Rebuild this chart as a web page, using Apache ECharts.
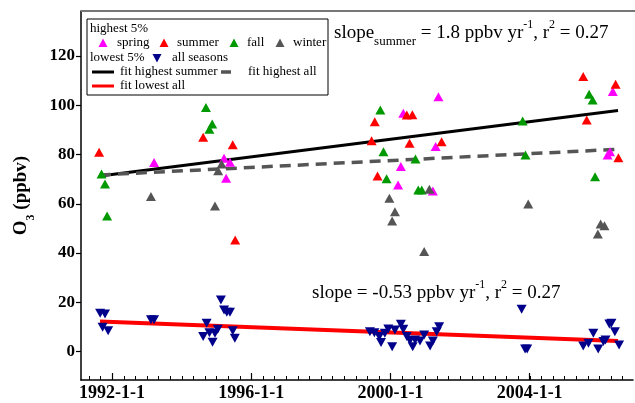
<!DOCTYPE html>
<html><head><meta charset="utf-8">
<script src="https://cdn.jsdelivr.net/npm/echarts@6/dist/echarts.min.js"></script>
<style>html,body{margin:0;padding:0;background:#fff}#c{width:635px;height:403px}</style>
</head><body><div id="c"></div>
<script>
// ---- data (decimal year, ppbv) ----
var spring = [[1993.21,76.7],[1995.22,78.5],[1995.39,76.8],[1995.28,70.3],[2001.38,103.4],[2000.37,96.7],[2001.30,83.2],[2000.30,75.1],[2000.22,67.6],[2001.22,65.2],[2006.39,105.5],[2006.24,79.8],[2006.31,81.1]];
var summer = [[1991.63,80.9],[1994.62,87.0],[1995.47,83.9],[1995.54,45.3],[1999.55,93.3],[1999.46,85.6],[2000.47,96.0],[2000.63,96.1],[2000.55,84.5],[2001.47,85.2],[1999.63,71.3],[2005.54,111.6],[2006.47,108.5],[2005.64,94.0],[2006.55,78.7]];
var fall = [[1991.70,72.1],[1991.80,68.0],[1991.86,55.0],[1994.70,99.1],[1994.88,92.4],[1994.80,90.2],[1999.71,98.0],[1999.80,81.1],[2000.72,78.2],[1999.89,70.1],[2000.80,65.6],[2000.90,65.6],[2003.80,93.6],[2003.88,79.8],[2005.71,104.4],[2005.81,102.1],[2005.88,71.0]];
var winter = [[1993.12,62.9],[1995.05,73.4],[1995.15,76.1],[1994.96,59.1],[2001.12,65.9],[1999.97,62.2],[2000.13,56.8],[2000.05,53.0],[2000.97,40.6],[2003.96,59.9],[2006.04,51.8],[2006.15,51.1],[2005.96,47.7]];
var lowestAll = [[1991.66,15.6],[1991.80,15.3],[1991.73,9.9],[1991.89,8.5],[1993.12,12.9],[1993.21,12.9],[1994.72,11.5],[1994.62,6.1],[1994.80,7.7],[1994.89,3.8],[1994.96,7.5],[1995.04,9.1],[1995.13,21.0],[1995.22,16.9],[1995.30,16.0],[1995.39,16.0],[1995.47,8.5],[1995.53,5.4],
  [1999.41,8.1],[1999.54,7.7],[1999.68,6.1],[1999.73,3.7],[1999.84,7.5],[1999.94,9.2],[2000.05,2.0],[2000.13,8.8],[2000.30,11.1],[2000.37,9.1],[2000.47,6.1],[2000.56,4.5],[2000.64,2.0],[2000.71,4.7],[2000.85,4.3],[2000.97,6.8],[2001.14,2.3],[2001.22,4.3],[2001.33,8.1],[2001.40,10.1],
  [2003.77,17.2],[2003.87,1.1],[2003.93,1.1],[2005.54,2.3],[2005.69,3.4],[2005.83,7.5],[2005.97,1.1],[2006.12,4.1],[2006.18,4.7],[2006.29,11.2],[2006.35,11.5],[2006.45,8.1],[2006.57,2.7]];
var fitHighestSummer = [[1991.655,71.3],[2006.54,97.8]];
var fitHighestAll = [[1991.655,71.7],[2006.54,82.1]];
var fitLowestAll = [[1991.655,12.2],[2006.54,4.3]];
var xTickYears = [1992,1996,2000,2004];
var yTicks = [0,20,40,60,80,100,120];

var minor = [];
for (var t = 1991.34; t < 2007; t += 1/3) minor.push(+t.toFixed(3));

var serif = 'Liberation Serif';
var chart = echarts.init(document.getElementById('c'), null, {renderer:'canvas'});
function tri(cx, cy, color, down) {
  var pts = down ? [[cx-4.5,cy-4],[cx+4.5,cy-4],[cx,cy+4.5]] : [[cx-4.5,cy+4],[cx+4.5,cy+4],[cx,cy-4.5]];
  return {type:'polygon', shape:{points:pts}, style:{fill:color}, z:101};
}
function txt(x, y, s) {
  return {type:'text', x:x, y:y, style:{text:s, font:'13px "Liberation Serif"', fill:'#000', verticalAlign:'middle'}, z:101};
}
function ln(x1,x2,y,color,w) {
  return {type:'line', shape:{x1:x1,y1:y,x2:x2,y2:y}, style:{stroke:color, lineWidth:w}, z:101};
}
var C = {spring:'#ff00ff', summer:'#ff0000', fall:'#009900', winter:'#555555', low:'#00008b'};
var mk = function(name, data, color, down) {
  return {name:name, type:'scatter', data:data, symbol:'triangle', symbolSize:[10,9], symbolRotate: down?180:0,
    itemStyle:{color:color, opacity:1}, z:5};
};
var fit = function(name, data, color, w, dash) {
  return {name:name, type:'line', data:data, symbol:'none', lineStyle:{color:color, width:w, type: dash ? [11,7] : 'solid'}, z:4, silent:true};
};
var annRich = {
  m:{fontFamily:serif, fontSize:19, color:'#000', lineHeight:22, verticalAlign:'bottom'},
  sub:{fontFamily:serif, fontSize:13, color:'#000', verticalAlign:'bottom', padding:[0,0,-5,0]},
  sup:{fontFamily:serif, fontSize:12, color:'#000', verticalAlign:'top', padding:[-2,0,0,0]}
};
chart.setOption({
  animation:false,
  grid:{left:81, right:2, top:11, bottom:23},
  xAxis:[{type:'value', min:1991.11, max:2006.97,
    axisLine:{show:true, onZero:false, lineStyle:{color:'#000', width:1.5}},
    axisTick:{show:true, inside:true, length:7, customValues:xTickYears, lineStyle:{color:'#000', width:1.2}},
    axisLabel:{customValues:xTickYears, formatter:function(v){return Math.round(v)+'-1-1';}, fontFamily:serif, fontWeight:'bold', fontSize:18, color:'#000', margin:4},
    splitLine:{show:false}},
   {type:'value', min:1991.11, max:2006.97, position:'bottom',
    axisLine:{show:false, onZero:false}, axisLabel:{show:false}, splitLine:{show:false},
    axisTick:{show:true, inside:true, length:4, customValues:minor, lineStyle:{color:'#000', width:1}}}],
  yAxis:{type:'value', min:-11.5, max:138.2,
    axisLine:{show:true, onZero:false, lineStyle:{color:'#000', width:1.5}},
    axisTick:{show:true, inside:false, length:5, customValues:yTicks, lineStyle:{color:'#000', width:1.2}},
    axisLabel:{customValues:yTicks, fontFamily:serif, fontWeight:'bold', fontSize:17, color:'#000', margin:6},
    splitLine:{show:false},
    name:'{b|O}{s|3}{b| (ppbv)}', nameLocation:'middle', nameGap:50, nameRotate:90,
    nameTextStyle:{rich:{b:{fontFamily:serif, fontWeight:'bold', fontSize:19, color:'#000'}, s:{fontFamily:serif, fontWeight:'bold', fontSize:12, color:'#000', verticalAlign:'bottom', padding:[0,0,-6,0]}}}},
  series:[
    fit('fit highest summer', fitHighestSummer, '#000', 3, false),
    fit('fit highest all', fitHighestAll, '#555', 3.5, true),
    fit('fit lowest all', fitLowestAll, '#ff0000', 4, false),
    mk('spring', spring, C.spring),
    mk('summer', summer, C.summer),
    mk('fall', fall, C.fall),
    mk('winter', winter, C.winter),
    mk('all seasons', lowestAll, C.low, true)
  ],
  graphic:[
    {type:'line', shape:{x1:81,y1:11,x2:635,y2:11}, style:{stroke:'#777', lineWidth:2}, z:100},
    {type:'rect', shape:{x:87,y:19,width:241,height:76}, style:{fill:'#fff', stroke:'#000', lineWidth:1}, z:100},
    txt(90,29,'highest 5%'),
    tri(103,43,C.spring), txt(117,43,'spring'),
    tri(164,43,C.summer), txt(177,43,'summer'),
    tri(234,43,C.fall), txt(247,43,'fall'),
    tri(280,43,C.winter), txt(293,43,'winter'),
    txt(90,58,'lowest 5%'), tri(157,58,C.low,true), txt(172,58,'all seasons'),
    ln(92,114,72,'#000',3), txt(120,72,'fit highest summer'),
    ln(221,231,72,'#555',3.5), txt(248,72,'fit highest all'),
    ln(92,114,86,'#ff0000',3), txt(120,86,'fit lowest all'),
    {type:'text', x:334, y:32, style:{text:'{m|slope}{sub|summer}{m| = 1.8 ppbv yr}{sup|-1}{m|, r}{sup|2}{m| = 0.27}', verticalAlign:'middle', rich:annRich}, z:101},
    {type:'text', x:312, y:292, style:{text:'{m|slope = -0.53 ppbv yr}{sup|-1}{m|, r}{sup|2}{m| = 0.27}', verticalAlign:'middle', rich:annRich}, z:101}
  ]
});
</script></body></html>
